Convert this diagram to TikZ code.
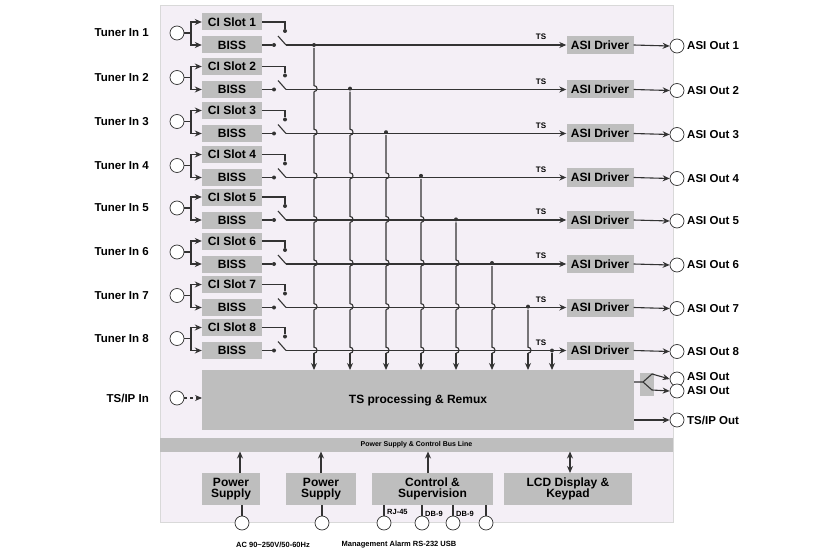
\documentclass[tikz,border=0pt]{standalone}
\usepackage{fontspec}
\setmainfont{Liberation Sans}
\usetikzlibrary{arrows.meta}
\definecolor{panel}{HTML}{F4EFF6}
\definecolor{boxg}{HTML}{BEBEBE}
\definecolor{ln}{HTML}{333333}
\begin{document}
\begin{tikzpicture}[x=1pt,y=-1pt,
  box/.style={fill=boxg,draw=none,inner sep=0,font=\fontsize{12}{12.5}\selectfont\bfseries,align=center},
  lbl/.style={font=\fontsize{11.5}{12}\selectfont\bfseries,inner sep=1pt},
  port/.style={circle,draw=ln,fill=white,minimum size=14pt,inner sep=0,line width=0.7pt},
  wire/.style={draw=ln,line width=1.1pt},
  arr/.style={wire,-{Stealth[length=7pt,width=6pt]}},
  dot/.style={circle,fill=ln,inner sep=0,minimum size=4pt},
  small/.style={font=\fontsize{7.5}{8}\selectfont\bfseries,inner sep=1pt}]
\useasboundingbox (0,0) rectangle (830,559);
\fill[panel,draw=black!15] (160,5) rectangle (673,522);
\foreach \i/\c in {1/22,2/66.5,3/110.5,4/154.5,5/197,6/241,7/284.5,8/327.5}{
  \pgfmathsetmacro{\b}{\c+23}
  \node[lbl,anchor=east] (tl\i) at (150,\c+11) {Tuner In \i};
  \node[port] (tp\i) at (177,\c+11) {};
  \node[box,minimum width=60pt,minimum height=17pt] (ci\i) at (232,\c) {CI Slot \i};
  \node[box,minimum width=60pt,minimum height=17pt] (bi\i) at (232,\b) {BISS};
  \node[box,minimum width=67pt,minimum height=18pt] (asi\i) at (600,\b) {ASI Driver};
  \node[port] (op\i) at (677,\b+1) {};
  \node[lbl,anchor=west] (ol\i) at (686,\b+1) {ASI Out \i};
  \node[small,font=\fontsize{8}{8}\selectfont\bfseries] (ts\i) at (541,\b-8) {TS};
  \draw[wire] (tp\i.east) -- (191,\c+11);
  \draw[arr] (191,\c+11) |- (ci\i.west);
  \draw[arr] (191,\c+11) |- (bi\i.west);
  \node[dot] (sa\i) at (285,\c+9) {};
  \node[dot] (sb\i) at (274,\b) {};
  \draw[wire] (ci\i.east) -- (285,\c) -- (sa\i);
  \draw[wire] (bi\i.east) -- (sb\i);
  \draw[wire] (278,\b-9) -- (286,\b);
  \draw[arr] (286,\b) -- (asi\i.west);
  \draw[arr] (asi\i.east) -- (op\i.west);
}
% TS processing
\node[box,minimum width=432pt,minimum height=60pt] (tsp) at (418,400) {TS processing \& Remux};
% taps
\foreach \i/\x in {1/314,2/350,3/386,4/421,5/456,6/492,7/528}{
  \pgfmathsetmacro{\y}{22+23+(\i-1)*43.6}
  \node[dot] (tap\i) at (\x,\y) {};
  \foreach \j in {\i,...,8}{
    \ifnum\j>\i
      \pgfmathsetmacro{\yy}{22+23+(\j-1)*43.6}
      \pgfmathsetmacro{\yp}{22+23+(\j-2)*43.6}
      \draw[wire] (\x,\yp+3) -- (\x,\yy-3) .. controls (\x+4,\yy-3) and (\x+4,\yy+3) .. (\x,\yy+3);
    \fi
  }
  \draw[arr] (\x,353) -- (\x,370);
}
\node[dot] (tap8) at (552,350.5) {};
\draw[arr] (tap8) -- (552,370);
% right outputs
\node[box,minimum width=14pt,minimum height=23pt] (sw) at (647,384) {};
\draw[wire] (634,382) -- (643,382) -- (652,374);
\draw[wire] (643,382) -- (652,390);
\node[port] (ao1) at (677,379) {};
\node[port] (ao2) at (677,391) {};
\node[lbl,anchor=west] (aol1) at (686,377) {ASI Out};
\node[lbl,anchor=west] (aol2) at (686,391) {ASI Out};
\draw[arr] (652,374) -- (ao1.west);
\draw[arr] (652,390) -- (ao2.west);
\node[port] (tipo) at (677,420) {};
\node[lbl,anchor=west] (tipol) at (686,420) {TS/IP Out};
\draw[arr] (634,420) -- (tipo.west);
\node[port] (tipi) at (177,398) {};
\node[lbl,anchor=east] (tipil) at (150,398) {TS/IP In};
\draw[arr,dashed] (tipi.east) -- (202,398);
% bus
\node[box,minimum width=513pt,minimum height=14pt,font=\fontsize{7}{7}\selectfont\bfseries] (bus) at (416.5,444.5) {Power Supply \& Control Bus Line};
\node[box,minimum width=58pt,minimum height=32pt] (ps1) at (231,489) {Power\\[-2pt]Supply};
\node[box,minimum width=70pt,minimum height=32pt] (ps2) at (321,489) {Power\\[-2pt]Supply};
\node[box,minimum width=121pt,minimum height=32pt] (ctl) at (432.5,489) {Control \&\\[-2pt]Supervision};
\node[box,minimum width=128pt,minimum height=32pt] (lcd) at (568,489) {LCD Display \&\\[-2pt]Keypad};
\draw[arr] (240,473) -- (240,451.5);
\draw[arr] (321,473) -- (321,451.5);
\draw[arr] (428,473) -- (428,451.5);
\draw[wire,{Stealth[length=7pt,width=6pt]}-{Stealth[length=7pt,width=6pt]}] (570,473) -- (570,451.5);
\foreach \n/\x in {c1/242,c2/322,c3/384,c4/422,c5/453,c6/486}{
  \node[port] (\n) at (\x,523) {};
  \draw[wire] (\x,505) -- (\n.north);
}
\node[small,anchor=west] (rj) at (386,512) {RJ-45};
\node[small,anchor=west] (db1) at (424,514) {DB-9};
\node[small,anchor=west] (db2) at (455,514) {DB-9};
\node[small] (ac) at (273,545) {AC 90\textasciitilde250V/50-60Hz};
\node[small] (mg) at (399,545) {Management Alarm RS-232 USB};
\end{tikzpicture}
\end{document}
